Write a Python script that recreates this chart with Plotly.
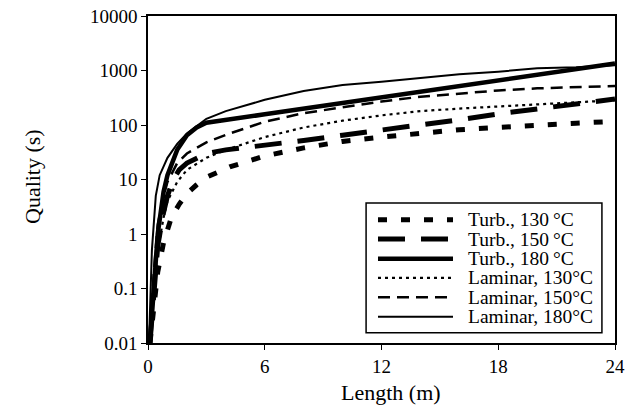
import plotly.graph_objects as go

# Pipe length (m) and quality (s) for each flow regime / temperature
turb130_x = [0.1, 0.3, 0.5, 0.8, 1.2, 1.6, 2.0, 2.5, 3.0, 4.2, 6, 8, 10, 12, 14, 16, 18, 20, 22, 24]
turb130_y = [0.01, 0.05, 0.2, 0.7, 2, 3.5, 5.5, 8, 11, 17, 27, 38, 50, 60, 72, 82, 90, 100, 108, 117]

turb150_x = [0.1, 0.3, 0.5, 0.8, 1.0, 1.3, 1.6, 2.0, 2.5, 3, 4, 6, 8, 10, 12, 14, 16, 18, 20, 22, 24]
turb150_y = [0.01, 0.1, 0.6, 2.5, 5, 10, 15, 20, 25, 30, 35, 42, 52, 65, 80, 100, 125, 160, 200, 240, 300]

turb180_x = [0.1, 0.3, 0.5, 0.8, 1.0, 1.5, 2.0, 2.5, 3, 6, 9, 12, 15, 18, 21, 24]
turb180_y = [0.01, 0.1, 1, 6, 12, 35, 65, 90, 110, 157, 225, 322, 461, 660, 945, 1350]

lam130_x = [0.1, 0.3, 0.5, 0.8, 1.0, 1.5, 2, 3, 4, 6, 8, 10, 12, 14, 16, 18, 20, 22, 24]
lam130_y = [0.01, 0.1, 0.5, 2, 4, 9, 15, 25, 35, 60, 90, 120, 150, 180, 200, 220, 240, 260, 285]

lam150_x = [0.1, 0.3, 0.5, 0.8, 1, 1.5, 2, 3, 4, 6, 8, 10, 12, 14, 16, 18, 20, 22, 24]
lam150_y = [0.01, 0.2, 1.5, 5, 9, 20, 30, 48, 66, 115, 165, 210, 270, 330, 380, 430, 470, 500, 520]

lam180_x = [0.05, 0.2, 0.4, 0.6, 1, 1.5, 2, 3, 4, 6, 8, 10, 12, 14, 16, 18, 20, 22, 24]
lam180_y = [0.01, 0.5, 5, 12, 25, 45, 70, 130, 180, 290, 420, 540, 620, 720, 850, 950, 1100, 1150, 1250]

x_ticks = [0, 6, 12, 18, 24]
y_ticks = [0.01, 0.1, 1, 10, 100, 1000, 10000]
y_tick_text = ["0.01", "0.1", "1", "10", "100", "1000", "10000"]

FONT = "Liberation Serif"

series = [
    ("Turb., 130\u2009°C", turb130_x, turb130_y, 5, "9px,14px"),
    ("Turb., 150\u2009°C", turb150_x, turb150_y, 5, "27px,16px"),
    ("Turb., 180\u2009°C", turb180_x, turb180_y, 4.5, "solid"),
    ("Laminar, 130°C", lam130_x, lam130_y, 2.2, "3px,4px"),
    ("Laminar, 150°C", lam150_x, lam150_y, 2.5, "12px,7px"),
    ("Laminar, 180°C", lam180_x, lam180_y, 2, "solid"),
]

fig = go.Figure()
for name, xs, ys, w, dash in series:
    fig.add_trace(go.Scatter(
        x=xs, y=ys, mode="lines", name=name, showlegend=False,
        line=dict(color="black", width=w, dash=dash),
    ))

axis_common = dict(
    showgrid=False, zeroline=False, showline=True, linecolor="black", linewidth=1.5,
    mirror=True, ticks="outside", ticklen=5, tickwidth=1.2, tickcolor="black",
    automargin=False,
    tickfont=dict(family=FONT, size=19, color="black"),
)

fig.update_xaxes(range=[0, 24], tickvals=x_ticks, **axis_common)
fig.update_yaxes(type="log", range=[-2, 4], tickvals=y_ticks, ticktext=y_tick_text, **axis_common)

# Boxed key in the lower-right corner of the plotting area (paper coordinates)
key_box = dict(x0=0.467, x1=0.972, y0=0.031, y1=0.428)
key_line_x = (0.4925, 0.6531)
key_text_x = 0.681
key_rows_y = [0.377, 0.318, 0.258, 0.199, 0.140, 0.080]

shapes = [dict(type="rect", xref="paper", yref="paper", layer="above",
               line=dict(color="black", width=1.5), fillcolor="white", **key_box)]
annotations = []
for (name, _, _, w, dash), ky in zip(series, key_rows_y):
    shapes.append(dict(type="line", xref="paper", yref="paper", layer="above",
                       x0=key_line_x[0], x1=key_line_x[1], y0=ky, y1=ky,
                       line=dict(color="black", width=w, dash=dash)))
    annotations.append(dict(text=name, xref="paper", yref="paper", x=key_text_x, y=ky,
                            xanchor="left", yanchor="middle", showarrow=False,
                            font=dict(family=FONT, size=19.5, color="black")))

annotations += [
    dict(text="Length (m)", xref="paper", yref="paper", x=0.52, y=-0.15,
         xanchor="center", yanchor="middle", showarrow=False,
         font=dict(family=FONT, size=22, color="black")),
    dict(text="Quality (s)", xref="paper", yref="paper", x=-0.246, y=0.508,
         xanchor="center", yanchor="middle", showarrow=False, textangle=-90,
         font=dict(family=FONT, size=22, color="black")),
]

fig.update_layout(
    width=627, height=405,
    margin=dict(l=148, r=12, t=16, b=62),
    paper_bgcolor="white", plot_bgcolor="white",
    font=dict(family=FONT, color="black"),
    showlegend=False,
    shapes=shapes,
    annotations=annotations,
)

fig.write_html("out.html")
